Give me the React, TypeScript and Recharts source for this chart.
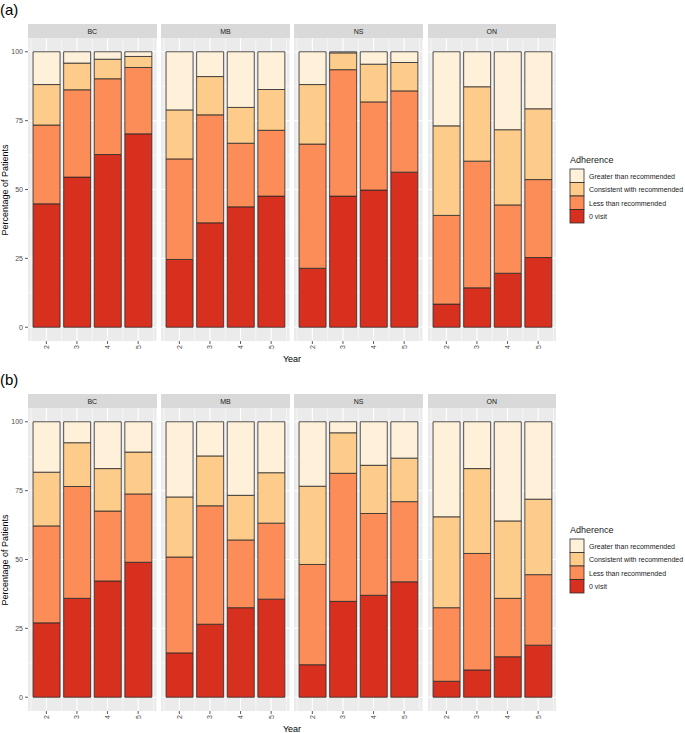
import React from 'react';
import { BarChart, Bar, XAxis, YAxis, CartesianGrid } from 'recharts';

const provinces = ['BC', 'MB', 'NS', 'ON'];
const years = [2, 3, 4, 5];
const yTicks = [0, 25, 50, 75, 100];
const minorY = [12.5, 37.5, 62.5, 87.5];
const minorX = [1.5, 2.5, 3.5, 4.5, 5.5];

// bottom to top of the stack
const seriesKeys = ['zero', 'less', 'consistent', 'greater'];
const seriesLabels = ['0 visit', 'Less than recommended', 'Consistent with recommended', 'Greater than recommended'];
const seriesColors = ['#D7301F', '#FC8D59', '#FDCC8A', '#FEF0D9'];

// panel (a): one row per province (BC, MB, NS, ON), one value per year 2..5
const zeroA = [
  [44.8, 54.5, 62.7, 70.2],
  [24.6, 37.9, 43.7, 47.6],
  [21.4, 47.6, 49.8, 56.3],
  [8.4, 14.3, 19.6, 25.3],
];
const lessA = [
  [28.6, 31.7, 27.5, 24.1],
  [36.5, 39.2, 23.1, 23.9],
  [45.1, 45.9, 32.0, 29.5],
  [32.2, 46.0, 24.8, 28.3],
];
const consistentA = [
  [14.7, 9.7, 7.1, 4.0],
  [17.8, 13.9, 13.0, 14.8],
  [21.6, 6.1, 13.7, 10.3],
  [32.5, 27.0, 27.3, 25.7],
];
const greaterA = [
  [11.9, 4.1, 2.7, 1.7],
  [21.1, 9.0, 20.2, 13.7],
  [11.9, 0.4, 4.5, 3.9],
  [26.9, 12.7, 28.3, 20.7],
];

// panel (b)
const zeroB = [
  [27.0, 35.9, 42.2, 49.0],
  [16.1, 26.5, 32.5, 35.6],
  [11.8, 34.8, 37.0, 41.9],
  [5.8, 9.9, 14.7, 18.9],
];
const lessB = [
  [35.2, 40.6, 25.4, 24.8],
  [34.8, 43.0, 24.6, 27.6],
  [36.4, 46.5, 29.7, 29.1],
  [26.7, 42.3, 21.2, 25.6],
];
const consistentB = [
  [19.5, 15.9, 15.4, 15.2],
  [21.8, 18.1, 16.2, 18.3],
  [28.4, 14.7, 17.5, 15.8],
  [33.0, 30.8, 28.1, 27.4],
];
const greaterB = [
  [18.3, 7.6, 17.0, 11.0],
  [27.3, 12.4, 26.7, 18.5],
  [23.4, 4.0, 15.8, 13.2],
  [34.5, 17.0, 36.0, 28.1],
];

const buildRows = (zero: number[], less: number[], consistent: number[], greater: number[]) =>
  years.map((year, i) => ({ year, zero: zero[i], less: less[i], consistent: consistent[i], greater: greater[i] }));

const FONT = '"Liberation Sans", Arial, sans-serif';
const PANEL_LEFT = 28;
const PANEL_STEP = 133.2;
const PANEL_W = 128.5;
const PANEL_H = 303;
const STRIP_H = 14;
const AXIS_W = 28;

const YearTick = (props: any) => {
  const { x, y, payload } = props;
  return (
    <text
      x={x}
      y={y}
      transform={`rotate(-90, ${x}, ${y})`}
      textAnchor="end"
      dominantBaseline="central"
      fontSize={7}
      fill="#4D4D4D"
      fontFamily={FONT}
    >
      {payload.value}
    </text>
  );
};

const Facet: React.FC<{ rows: any[]; index: number; top: number }> = ({ rows, index, top }) => {
  const left = PANEL_LEFT + index * PANEL_STEP;
  const showY = index === 0;
  const axisW = showY ? AXIS_W : 0;
  return (
    <>
      <div
        style={{
          position: 'absolute',
          left,
          top: top - STRIP_H,
          width: PANEL_W,
          height: STRIP_H,
          background: '#D9D9D9',
          color: '#1A1A1A',
          fontSize: 7,
          fontFamily: FONT,
          display: 'flex',
          alignItems: 'center',
          justifyContent: 'center',
        }}
      >
        {provinces[index]}
      </div>
      <div style={{ position: 'absolute', left: left - axisW, top }}>
        <BarChart
          width={PANEL_W + axisW}
          height={PANEL_H + 20}
          data={rows}
          margin={{ top: 0, right: 0, left: 0, bottom: 0 }}
          barSize={27}
        >
          <CartesianGrid
            fill="#EBEBEB"
            fillOpacity={1}
            stroke="#FFFFFF"
            strokeWidth={0.55}
            horizontalValues={minorY}
            verticalValues={minorX}
          />
          <CartesianGrid
            stroke="#FFFFFF"
            strokeWidth={1.1}
            horizontalValues={yTicks}
            verticalValues={years}
          />
          <XAxis
            dataKey="year"
            type="number"
            domain={[1.4, 5.6]}
            ticks={years}
            interval={0}
            allowDataOverflow
            height={20}
            axisLine={false}
            tickSize={3}
            tickMargin={1}
            tickLine={{ stroke: '#333333', strokeWidth: 0.8 }}
            tick={<YearTick />}
          />
          <YAxis
            type="number"
            domain={[-5, 105]}
            ticks={yTicks}
            interval={0}
            allowDataOverflow
            hide={!showY}
            width={AXIS_W}
            axisLine={false}
            tickSize={3}
            tickMargin={2}
            tickLine={{ stroke: '#333333', strokeWidth: 0.8 }}
            tick={{ fontSize: 7, fill: '#4D4D4D', fontFamily: FONT }}
          />
          {seriesKeys.map((key, i) => (
            <Bar
              key={key}
              dataKey={key}
              stackId="a"
              fill={seriesColors[i]}
              stroke="#2B2B2B"
              strokeWidth={0.8}
              isAnimationActive={false}
            />
          ))}
        </BarChart>
      </div>
    </>
  );
};

const LegendBox: React.FC<{ top: number }> = ({ top }) => {
  const order = [3, 2, 1, 0];
  return (
    <svg style={{ position: 'absolute', left: 565, top, overflow: 'visible' }} width={120} height={80}>
      <text x={5} y={13} fontSize={9} fill="#1A1A1A" fontFamily={FONT}>
        Adherence
      </text>
      {order.map((s, i) => (
        <g key={s}>
          <rect x={5} y={19 + i * 13.5} width={14} height={13.5} fill={seriesColors[s]} stroke="#2B2B2B" strokeWidth={0.8} />
          <text x={24} y={26 + i * 13.5} fontSize={7} fill="#1A1A1A" fontFamily={FONT} dominantBaseline="central">
            {seriesLabels[s]}
          </text>
        </g>
      ))}
    </svg>
  );
};

const Panel: React.FC<{ tag: string; offset: number; zero: number[][]; less: number[][]; consistent: number[][]; greater: number[][] }> = ({
  tag,
  offset,
  zero,
  less,
  consistent,
  greater,
}) => (
  <>
    <div style={{ position: 'absolute', left: 0, top: offset + 1, fontSize: 15, fontFamily: FONT, color: '#000' }}>{tag}</div>
    {provinces.map((p, i) => (
      <Facet key={p} index={i} top={offset + 38} rows={buildRows(zero[i], less[i], consistent[i], greater[i])} />
    ))}
    <div
      style={{
        position: 'absolute',
        left: 4.5,
        top: offset + 189.5,
        transform: 'translate(-50%, -50%) rotate(-90deg)',
        fontSize: 9,
        fontFamily: FONT,
        color: '#000',
        whiteSpace: 'nowrap',
      }}
    >
      Percentage of Patients
    </div>
    <div
      style={{
        position: 'absolute',
        left: 292,
        top: offset + 358.5,
        transform: 'translate(-50%, -50%)',
        fontSize: 9,
        fontFamily: FONT,
        color: '#000',
      }}
    >
      Year
    </div>
    <LegendBox top={offset + 150} />
  </>
);

export default function App() {
  return (
    <div style={{ position: 'absolute', left: 0, top: 0, width: 685, height: 733, background: '#FFFFFF', overflow: 'hidden' }}>
      <Panel tag="(a)" offset={0} zero={zeroA} less={lessA} consistent={consistentA} greater={greaterA} />
      <Panel tag="(b)" offset={370} zero={zeroB} less={lessB} consistent={consistentB} greater={greaterB} />
    </div>
  );
}
